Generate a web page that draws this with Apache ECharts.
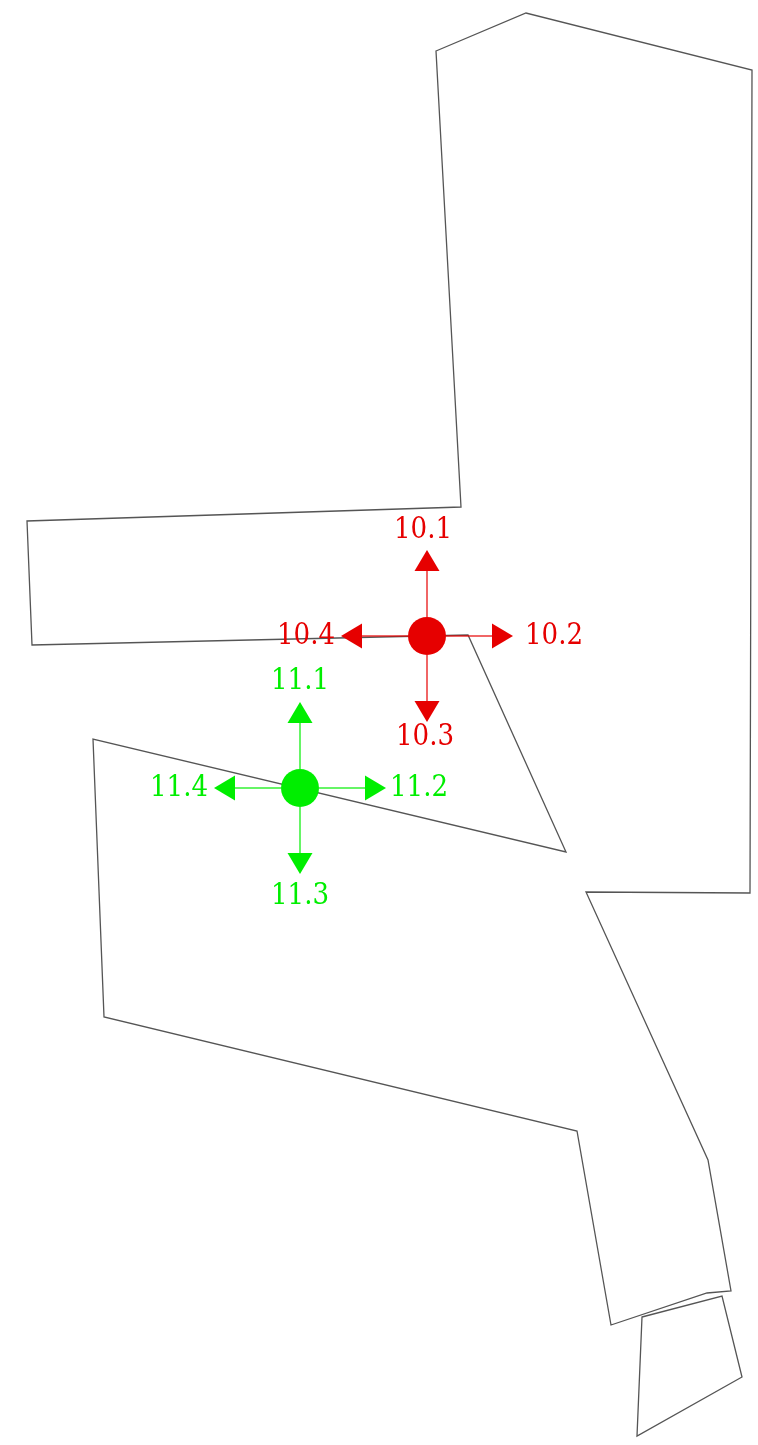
<!DOCTYPE html>
<html>
<head>
<meta charset="utf-8">
<script src="https://cdn.jsdelivr.net/npm/echarts@6/dist/echarts.min.js"></script>
<style>
html,body{margin:0;padding:0;background:#fff;}
#main{width:758px;height:1445px;}
</style>
</head>
<body>
<div id="main"></div>
<script>
// Floor outlines (plan units)
var roomMain = [[436,51],[526,13],[752,70],[750,893],[586,892],[708,1160],[731,1291],[707,1293],[611,1325],[577,1131],[104,1017],[93,739],[566,852],[468,635],[32,645],[27,521],[461,507]];
var roomSmall = [[642,1317],[722,1296],[742,1377],[637,1436]];
var rooms = [roomMain, roomSmall];

// Markers
var markerX = [427, 300];
var markerY = [636, 788];
var markerLabels = [
  ['10.1','10.2','10.3','10.4'],
  ['11.1','11.2','11.3','11.4']
];

var COLORS = ['#e60000', '#00ee00'];
var LINE_COLORS = ['rgba(230,0,0,0.6)', 'rgba(0,238,0,0.6)'];
// label offsets (px) for up, right, down, left
var LABEL_OFF = [
  [[-4,-106],[127,0],[-2,101],[-121,0]],
  [[0,-107],[119,0],[0,108],[-121,0]]
];

var chart = echarts.init(document.getElementById('main'), null, {renderer:'canvas'});

var roomData = rooms.map(function(r, i){ return {value:[i], points:r}; });
var markerData = markerX.map(function(x, i){ return [x, markerY[i], i]; });

chart.setOption({
  animation:false,
  backgroundColor:'#fff',
  grid:{left:0,right:0,top:0,bottom:0},
  xAxis:{type:'value',min:0,max:758,show:false},
  yAxis:{type:'value',min:0,max:1445,inverse:true,show:false},
  series:[
    {
      type:'custom',
      coordinateSystem:'cartesian2d',
      data:roomData,
      renderItem:function(params, api){
        var pts = rooms[params.dataIndex].map(function(p){ return api.coord(p); });
        return {
          type:'polygon',
          shape:{points:pts},
          style:{fill:'rgba(255,255,255,0)',stroke:'#555',lineWidth:1.3}
        };
      }
    },
    {
      type:'custom',
      coordinateSystem:'cartesian2d',
      data:markerData,
      z:5,
      renderItem:function(params, api){
        var i = api.value(2);
        var c = api.coord([api.value(0), api.value(1)]);
        var col = COLORS[i], lcol = LINE_COLORS[i];
        var dirs = [[0,-1],[1,0],[0,1],[-1,0]];
        var children = [];
        var r = 19, base = 65, tip = 86, hw = 12.5;
        dirs.forEach(function(d, k){
          var px = -d[1], py = d[0];
          children.push({
            type:'line',
            shape:{x1:c[0]+d[0]*r, y1:c[1]+d[1]*r, x2:c[0]+d[0]*base, y2:c[1]+d[1]*base},
            style:{stroke:lcol,lineWidth:2}
          });
          children.push({
            type:'polygon',
            shape:{points:[
              [c[0]+d[0]*tip, c[1]+d[1]*tip],
              [c[0]+d[0]*base+px*hw, c[1]+d[1]*base+py*hw],
              [c[0]+d[0]*base-px*hw, c[1]+d[1]*base-py*hw]
            ]},
            style:{fill:col}
          });
          var off = LABEL_OFF[i][k];
          children.push({
            type:'text',
            x:c[0]+off[0], y:c[1]+off[1],
            style:{
              text:markerLabels[i][k],
              fill:col,
              font:'29px "DejaVu Serif Condensed", "DejaVu Serif", serif',
              align:'center',
              verticalAlign:'middle'
            }
          });
        });
        children.push({
          type:'circle',
          shape:{cx:c[0],cy:c[1],r:r},
          style:{fill:col}
        });
        return {type:'group',children:children};
      }
    }
  ]
});
</script>
</body>
</html>
